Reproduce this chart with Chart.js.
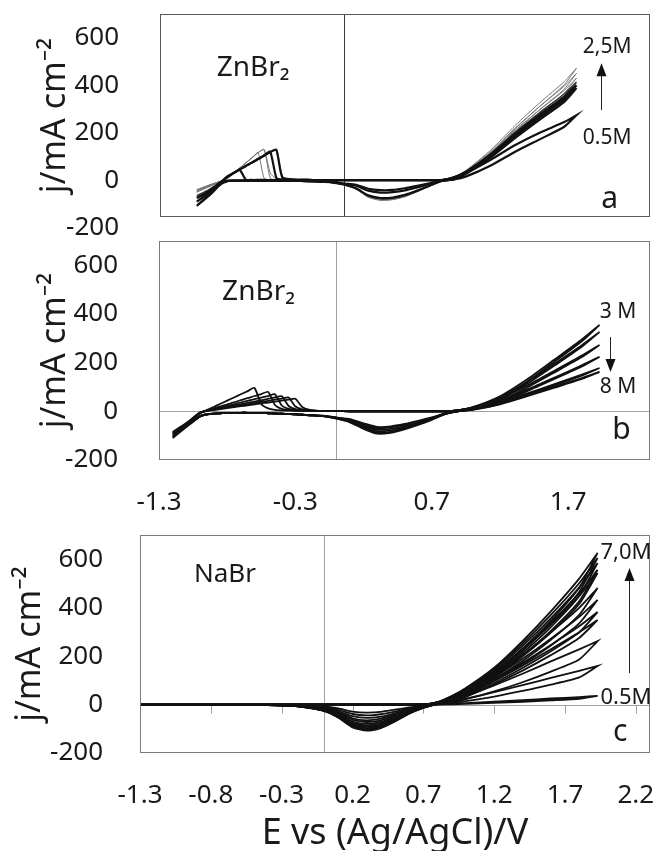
<!DOCTYPE html>
<html>
<head>
<meta charset="utf-8">
<script src="https://cdn.jsdelivr.net/npm/chart.js"></script>
<style>
  body { margin: 0; background: #fff; }
  #wrap { position: relative; width: 659px; height: 851px; }
  canvas { position: absolute; left: 0; }
</style>
</head>
<body>
<div id="wrap">
  <canvas id="panelA" width="659" height="245" style="top:0px"></canvas>
  <canvas id="panelB" width="659" height="290" style="top:235px"></canvas>
  <canvas id="panelC" width="659" height="326" style="top:525px"></canvas>
</div>
<script>
// ---- data (E in V vs Ag/AgCl, j in mA cm-2) ----

// panel a: ZnBr2 0.5 M .. 2.5 M
var znLowConc = [0.5, 0.8, 1.2, 1.5, 1.8, 2.2, 2.5];
var znLowPotential = [-1.2, -1.1, -1.0, -0.95, -0.9, -0.85, -0.8, -0.75, -0.7, -0.65, -0.6, -0.55, -0.5,
  -0.4, -0.3, -0.2, -0.1, 0.0, 0.1, 0.2, 0.3, 0.4, 0.5, 0.6, 0.7, 0.8, 0.9, 1.0, 1.2, 1.4, 1.6, 1.8, 1.9];
var znLowForward = [
  [-108, -62, -12, 15, 30, 44, 3, 1, 1, 1, 0, 0, 0, 1, 1, 0, 0, 0, 0, 0, 0, 0, 0, 0, 0, 0, 10, 30, 86, 148, 200, 245, 274],
  [-90, -52, -8, 15, 30, 45, 60, 74, 89, 104, 120, 10, 3, 1, 1, 0, 0, 0, 0, 0, 0, 0, 0, 0, 0, 0, 12, 35, 105, 190, 268, 341, 388],
  [-75, -45, -6, 15, 30, 45, 60, 74, 89, 104, 118, 128, 10, 2, 1, 0, 0, 0, 0, 0, 0, 0, 0, 0, 0, 0, 12, 36, 108, 196, 276, 352, 400],
  [-65, -40, -6, 15, 30, 45, 60, 74, 89, 104, 119, 127, 14, 3, 1, 0, 0, 0, 0, 0, 0, 0, 0, 0, 0, 0, 12, 37, 112, 202, 285, 363, 413],
  [-45, -26, -4, 7, 29, 51, 73, 94, 116, 8, 2, 1, 1, 1, 0, 0, 0, 0, 0, 0, 0, 0, 0, 0, 0, 0, 13, 39, 116, 211, 297, 378, 430],
  [-40, -24, -4, 7, 29, 51, 73, 94, 116, 128, 8, 2, 1, 1, 0, 0, 0, 0, 0, 0, 0, 0, 0, 0, 0, 0, 13, 40, 121, 220, 311, 396, 450],
  [-50, -28, -4, 7, 29, 51, 73, 94, 116, 130, 30, 5, 2, 1, 1, 0, 0, 0, 0, 0, 0, 0, 0, 0, 0, 0, 14, 42, 127, 231, 326, 415, 472]
];
var znLowReverse = [
  [-108, -65, -16, -4, -2, -2, -2, -2, -2, -2, -2, -2, -3, -3, -4, -5, -7, -14, -19, -36, -42, -41, -34, -24, -13, -2, 3, 16, 62, 120, 172, 225, 274],
  [-90, -55, -12, -3, -2, -2, -2, -2, -2, -2, -2, -2, -3, -3, -4, -5, -8, -15, -23, -44, -52, -50, -43, -30, -16, -2, 4, 28, 96, 178, 255, 330, 388],
  [-75, -48, -10, -3, -2, -2, -2, -2, -2, -2, -2, -2, -3, -3, -4, -6, -9, -18, -34, -64, -75, -73, -62, -44, -23, -3, 4, 29, 99, 184, 263, 341, 400],
  [-65, -42, -9, -3, -2, -2, -2, -2, -2, -2, -2, -2, -3, -3, -4, -6, -9, -18, -35, -66, -78, -76, -64, -45, -23, -3, 4, 30, 102, 190, 272, 352, 413],
  [-45, -22, -4, -2, -2, -2, -2, -2, -2, -2, -2, -2, -3, -3, -4, -6, -9, -18, -36, -68, -80, -78, -66, -46, -24, -3, 4, 31, 106, 198, 283, 366, 430],
  [-40, -20, -4, -2, -2, -2, -2, -2, -2, -2, -2, -2, -3, -3, -5, -6, -10, -19, -37, -71, -83, -81, -68, -48, -25, -3, 4, 32, 111, 207, 297, 384, 450],
  [-50, -26, -5, -2, -2, -2, -2, -2, -2, -2, -2, -2, -3, -3, -5, -6, -10, -19, -38, -72, -85, -82, -70, -49, -26, -3, 5, 34, 116, 217, 311, 402, 472]
];

// panel b: ZnBr2 3 M .. 8 M
var znHighConc = [3, 4, 5, 6, 7, 8];
var znHighPotential = [-1.2, -1.1, -1.0, -0.95, -0.9, -0.85, -0.8, -0.75, -0.7, -0.65, -0.6, -0.55, -0.5, -0.45,
  -0.4, -0.35, -0.3, -0.25, -0.2, -0.1, 0.0, 0.1, 0.2, 0.3, 0.4, 0.5, 0.6, 0.7, 0.8, 0.9, 1.0, 1.2, 1.4, 1.6, 1.8, 1.93];
var znHighForward = [
  [-110, -60, -8, 5, 18, 31, 44, 57, 70, 83, 96, 30, 12, 6, 4, 3, 2, 2, 1, 1, 1, 0, 0, 0, 0, 0, 0, 0, 0, 5, 17, 62, 132, 213, 295, 355],
  [-105, -57, -7, 3, 12, 20, 29, 37, 46, 54, 63, 71, 80, 26, 10, 6, 4, 3, 2, 1, 1, 0, 0, 0, 0, 0, 0, 0, 0, 5, 16, 58, 122, 196, 272, 326],
  [-100, -55, -7, 3, 9, 16, 23, 29, 36, 43, 50, 56, 63, 70, 24, 10, 5, 3, 2, 1, 1, 0, 0, 0, 0, 0, 0, 0, 0, 5, 15, 52, 106, 167, 229, 273],
  [-95, -52, -6, 2, 8, 13, 19, 24, 29, 35, 40, 46, 51, 57, 62, 22, 9, 5, 3, 1, 1, 0, 0, 0, 0, 0, 0, 0, 0, 5, 14, 45, 90, 139, 189, 224],
  [-90, -50, -6, 2, 6, 11, 16, 20, 25, 29, 34, 39, 43, 48, 52, 57, 20, 8, 4, 1, 1, 0, 0, 0, 0, 0, 0, 0, 0, 4, 12, 38, 74, 112, 151, 178],
  [-85, -48, -5, 2, 5, 9, 13, 17, 21, 25, 29, 33, 36, 40, 44, 48, 52, 18, 7, 1, 1, 0, 0, 0, 0, 0, 0, 0, 0, 4, 11, 35, 68, 102, 137, 162]
];
var znHighReverse = [
  [-110, -65, -22, -13, -9, -8, -7, -7, -6, -6, -7, -7, -8, -9, -10, -11, -12, -14, -16, -20, -30, -45, -72, -92, -88, -74, -56, -35, -11, 1, 10, 52, 122, 204, 288, 355],
  [-105, -62, -22, -13, -9, -8, -7, -7, -6, -6, -7, -7, -8, -9, -10, -11, -12, -14, -16, -20, -29, -43, -68, -87, -84, -70, -53, -33, -10, 1, 9, 48, 113, 188, 265, 326],
  [-100, -60, -21, -13, -9, -8, -7, -7, -6, -6, -7, -7, -8, -9, -10, -11, -12, -14, -16, -19, -28, -40, -63, -81, -78, -66, -49, -31, -10, 1, 9, 43, 98, 160, 223, 273],
  [-95, -57, -20, -12, -9, -8, -7, -7, -6, -6, -7, -7, -8, -9, -10, -11, -12, -14, -16, -19, -27, -37, -58, -75, -72, -61, -46, -29, -9, 1, 8, 37, 83, 133, 184, 224],
  [-90, -55, -20, -12, -9, -8, -7, -7, -6, -6, -7, -7, -8, -9, -10, -11, -12, -14, -16, -18, -26, -34, -53, -69, -66, -56, -42, -27, -8, 1, 7, 31, 68, 107, 147, 178],
  [-85, -53, -19, -12, -9, -8, -7, -7, -6, -6, -7, -7, -8, -9, -10, -11, -12, -14, -16, -18, -25, -32, -49, -64, -62, -52, -39, -25, -8, 1, 6, 29, 62, 97, 133, 162]
];

// panel c: NaBr 0.5 M .. 7.0 M
var naBrConc = [0.5, 1.0, 1.5, 2.0, 2.5, 3.0, 3.5, 4.0, 4.5, 5.0, 6.0, 7.0];
var naBrPotential = [-1.3, -0.5, -0.2, 0.0, 0.1, 0.2, 0.3, 0.4, 0.5, 0.6, 0.7, 0.8, 0.9, 1.0, 1.2, 1.4, 1.6, 1.8, 1.93];
var naBrForward = [
  [0, 0, 0, 0, 0, 0, 0, 0, 0, 0, 0, 1, 3, 6, 12, 18, 25, 31, 36],
  [0, 0, 0, 0, 0, 0, 0, 0, 0, 0, 0, 4, 12, 24, 51, 80, 110, 139, 159],
  [0, 0, 0, 0, 0, 0, 0, 0, 0, 0, 0, 5, 17, 35, 79, 127, 178, 228, 262],
  [0, 0, 0, 0, 0, 0, 0, 0, 0, 0, 0, 6, 22, 43, 98, 160, 228, 298, 349],
  [0, 0, 0, 0, 0, 0, 0, 0, 0, 0, 0, 7, 23, 46, 105, 172, 246, 323, 382],
  [0, 0, 0, 0, 0, 0, 0, 0, 0, 0, 0, 7, 25, 50, 114, 189, 272, 362, 432],
  [0, 0, 0, 0, 0, 0, 0, 0, 0, 0, 0, 8, 27, 54, 123, 205, 298, 399, 481],
  [0, 0, 0, 0, 0, 0, 0, 0, 0, 0, 0, 9, 30, 59, 133, 226, 331, 448, 543],
  [0, 0, 0, 0, 0, 0, 0, 0, 0, 0, 0, 9, 31, 61, 136, 231, 339, 459, 556],
  [0, 0, 0, 0, 0, 0, 0, 0, 0, 0, 0, 9, 32, 63, 141, 242, 356, 483, 584],
  [0, 0, 0, 0, 0, 0, 0, 0, 0, 0, 0, 10, 34, 65, 146, 252, 370, 501, 605],
  [0, 0, 0, 0, 0, 0, 0, 0, 0, 0, 0, 10, 35, 68, 152, 262, 385, 520, 626]
];
var naBrReverse = [
  [0, -1, -2, -8, -16, -29, -33, -30, -21, -12, -4, 0, 1, 3, 7, 11, 17, 24, 36],
  [0, -1, -3, -11, -22, -39, -45, -40, -29, -16, -6, 1, 6, 14, 33, 56, 82, 112, 159],
  [0, -1, -3, -14, -28, -48, -55, -50, -36, -19, -7, 2, 9, 22, 54, 92, 136, 186, 262],
  [0, -1, -4, -16, -32, -57, -65, -58, -42, -23, -8, 2, 14, 32, 83, 140, 204, 275, 349],
  [0, -1, -4, -18, -36, -63, -72, -65, -47, -25, -9, 2, 15, 34, 89, 151, 220, 298, 382],
  [0, -1, -5, -20, -40, -70, -80, -72, -52, -28, -10, 3, 16, 37, 97, 166, 244, 335, 432],
  [0, -1, -5, -22, -43, -75, -86, -77, -56, -30, -11, 3, 17, 40, 105, 180, 267, 370, 481],
  [0, -1, -6, -23, -46, -80, -92, -83, -60, -32, -12, 3, 19, 44, 113, 199, 297, 415, 543],
  [0, -1, -6, -24, -48, -84, -97, -87, -63, -34, -12, 3, 19, 45, 116, 203, 304, 426, 556],
  [0, -1, -6, -25, -50, -88, -101, -91, -66, -35, -13, 3, 20, 47, 120, 213, 320, 448, 584],
  [0, -1, -6, -26, -52, -91, -105, -95, -68, -37, -13, 4, 21, 48, 124, 222, 332, 465, 605],
  [0, -1, -6, -27, -54, -94, -108, -97, -70, -38, -14, 4, 22, 50, 129, 230, 346, 482, 626]
];

// tick labels
var yTickValues = [-200, 0, 200, 400, 600];
var xTicksA = [-1.5, 2.5];
var xTicksB = [-1.3, -0.3, 0.7, 1.7];
var xTicksC = [-1.3, -0.8, -0.3, 0.2, 0.7, 1.2, 1.7, 2.2];

// ---- helpers ----
Chart.defaults.font.family = "'Noto Sans', 'DejaVu Sans', sans-serif";
Chart.defaults.color = '#1a1a1a';

var FONT = "'Noto Sans', 'DejaVu Sans', sans-serif";

// one closed CV loop: forward sweep then reverse sweep
function loopPoints(potential, fwd, rev) {
  var pts = [];
  for (var i = 0; i < potential.length; i++) pts.push({x: potential[i], y: fwd[i]});
  for (var k = potential.length - 1; k >= 0; k--) pts.push({x: potential[k], y: rev[k]});
  return pts;
}

function buildDatasets(conc, potential, fwd, rev, styleFor) {
  return conc.map(function (c, i) {
    var st = styleFor(i);
    return {
      label: c + ' M',
      data: loopPoints(potential, fwd[i], rev[i]),
      borderColor: st.color,
      borderWidth: st.width,
      order: st.order,
      showLine: true,
      pointRadius: 0,
      tension: 0.2
    };
  });
}

// frame, zero lines, labels and arrows
function decor(spec) {
  return {
    id: 'decor',
    beforeDatasetsDraw: function (chart) {
      var ctx = chart.ctx, a = chart.chartArea;
      var xs = chart.scales.x, ys = chart.scales.y;
      ctx.save();
      ctx.lineWidth = 1;
      if (spec.zeroY) {
        var py = Math.round(ys.getPixelForValue(0)) + 0.5;
        ctx.strokeStyle = spec.zeroY;
        ctx.beginPath(); ctx.moveTo(a.left, py); ctx.lineTo(a.right, py); ctx.stroke();
        if (spec.zeroTicks) {
          xs.ticks.forEach(function (t) {
            var tx = Math.round(xs.getPixelForValue(t.value)) + 0.5;
            ctx.beginPath(); ctx.moveTo(tx, py); ctx.lineTo(tx, py + 8); ctx.stroke();
          });
        }
      }
      if (spec.zeroX) {
        var px = Math.round(xs.getPixelForValue(0)) + 0.5;
        ctx.strokeStyle = spec.zeroX;
        ctx.beginPath(); ctx.moveTo(px, a.top); ctx.lineTo(px, a.bottom); ctx.stroke();
      }
      ctx.restore();
    },
    afterDatasetsDraw: function (chart) {
      var ctx = chart.ctx, a = chart.chartArea;
      var xs = chart.scales.x, ys = chart.scales.y;
      ctx.save();
      ctx.strokeStyle = spec.box;
      ctx.lineWidth = 1;
      ctx.strokeRect(Math.round(a.left) + 0.5, Math.round(a.top) + 0.5,
        Math.round(a.width) - 1, Math.round(a.height) - 1);
      ctx.fillStyle = '#1a1a1a';
      ctx.textAlign = 'center';
      ctx.textBaseline = 'middle';
      spec.notes.forEach(function (n) {
        ctx.font = n.size + 'px ' + FONT;
        ctx.fillText(n.text, xs.getPixelForValue(n.x), ys.getPixelForValue(n.y));
      });
      if (spec.arrow) {
        var ax = Math.round(xs.getPixelForValue(spec.arrow.x)) + 0.5;
        var y0 = ys.getPixelForValue(spec.arrow.from);
        var y1 = ys.getPixelForValue(spec.arrow.to);
        var dir = y1 < y0 ? 1 : -1;
        ctx.strokeStyle = '#222';
        ctx.lineWidth = 1;
        ctx.beginPath(); ctx.moveTo(ax, y0); ctx.lineTo(ax, y1 + dir * 10); ctx.stroke();
        ctx.beginPath();
        ctx.moveTo(ax, y1);
        ctx.lineTo(ax - 5, y1 + dir * 13);
        ctx.lineTo(ax + 5, y1 + dir * 13);
        ctx.closePath();
        ctx.fillStyle = '#111';
        ctx.fill();
      }
      ctx.restore();
    }
  };
}

function panelOptions(p) {
  return {
    responsive: false,
    animation: false,
    devicePixelRatio: 1,
    layout: {padding: {top: p.top, right: 9, left: 0, bottom: 0}},
    plugins: {legend: {display: false}, tooltip: {enabled: false}},
    scales: {
      x: {
        type: 'linear',
        min: p.xMin,
        max: p.xMax,
        grid: {display: false},
        border: {display: false},
        afterBuildTicks: function (s) { s.ticks = p.xTicks.map(function (v) { return {value: v}; }); },
        afterFit: function (s) { s.height = p.xHeight; s.paddingLeft = 0; s.paddingRight = 0; },
        ticks: {
          display: p.showX,
          autoSkip: false,
          maxRotation: 0,
          padding: 19,
          font: {size: 26},
          callback: function (v) { return Number(v).toFixed(1); }
        },
        title: {
          display: !!p.xTitle,
          text: p.xTitle || '',
          font: {size: 36, lineHeight: 0.7},
          padding: {top: 0, bottom: 5}
        }
      },
      y: {
        type: 'linear',
        min: p.yMin,
        max: 700,
        grid: {display: false},
        border: {display: false},
        afterBuildTicks: function (s) { s.ticks = yTickValues.map(function (v) { return {value: v}; }); },
        afterFit: function (s) { s.width = p.yWidth; s.paddingTop = 0; s.paddingBottom = 0; },
        ticks: {autoSkip: false, padding: p.yPad, font: {size: 26}},
        title: {
          display: true,
          text: 'j/mA cm⁻²',
          font: {size: 34, lineHeight: 1.2},
          padding: {top: p.titleOffset, bottom: 0}
        }
      }
    }
  };
}

// ---- panel a ----
new Chart(document.getElementById('panelA'), {
  type: 'scatter',
  data: {
    datasets: buildDatasets(znLowConc, znLowPotential, znLowForward, znLowReverse, function (i) {
      if (i < 3) return {color: '#111', width: 2.2, order: 0};
      if (i === 3) return {color: '#333', width: 1.5, order: 1};
      return {color: '#777', width: 1, order: 2};
    })
  },
  options: panelOptions({top: 14, xMin: -1.5, xMax: 2.5, xTicks: xTicksA, showX: false, xHeight: 28,
    yMin: -155, yWidth: 160, yPad: 33, titleOffset: 35}),
  plugins: [decor({
    box: '#5a5a5a', zeroX: '#3a3a3a',
    notes: [
      {text: 'ZnBr₂', x: -0.74, y: 473, size: 28},
      {text: '2,5M', x: 2.15, y: 561, size: 21},
      {text: '0.5M', x: 2.15, y: 178, size: 21},
      {text: 'a', x: 2.17, y: -83, size: 30}
    ],
    arrow: {x: 2.10, from: 295, to: 493}
  })]
});

// ---- panel b ----
new Chart(document.getElementById('panelB'), {
  type: 'scatter',
  data: {
    datasets: buildDatasets(znHighConc, znHighPotential, znHighForward, znHighReverse, function () {
      return {color: '#111', width: 1.8, order: 0};
    })
  },
  options: panelOptions({top: 6, xMin: -1.3, xMax: 2.3, xTicks: xTicksB, showX: true, xHeight: 65,
    yMin: -200, yWidth: 159, yPad: 33, titleOffset: 35}),
  plugins: [decor({
    box: '#7a7a7a', zeroX: '#a0a0a0', zeroY: '#a0a0a0',
    notes: [
      {text: 'ZnBr₂', x: -0.57, y: 490, size: 28},
      {text: '3 M', x: 2.065, y: 408, size: 21},
      {text: '8 M', x: 2.065, y: 100, size: 21},
      {text: 'b', x: 2.09, y: -77, size: 30}
    ],
    arrow: {x: 2.007, from: 305, to: 162}
  })]
});

// ---- panel c ----
new Chart(document.getElementById('panelC'), {
  type: 'scatter',
  data: {
    datasets: buildDatasets(naBrConc, naBrPotential, naBrForward, naBrReverse, function () {
      return {color: '#111', width: 1.8, order: 0};
    })
  },
  options: panelOptions({top: 10, xMin: -1.3, xMax: 2.3, xTicks: xTicksC, showX: true, xHeight: 98,
    xTitle: 'E vs (Ag/AgCl)/V', yMin: -200, yWidth: 140, yPad: 29, titleOffset: 10}),
  plugins: [decor({
    box: '#7a7a7a', zeroX: '#a0a0a0', zeroY: '#a0a0a0', zeroTicks: true,
    notes: [
      {text: 'NaBr', x: -0.70, y: 535, size: 26},
      {text: '7,0M', x: 2.13, y: 626, size: 22},
      {text: '0.5M', x: 2.13, y: 27, size: 22},
      {text: 'c', x: 2.09, y: -117, size: 30}
    ],
    arrow: {x: 2.15, from: 130, to: 564}
  })]
});
</script>
</body>
</html>
